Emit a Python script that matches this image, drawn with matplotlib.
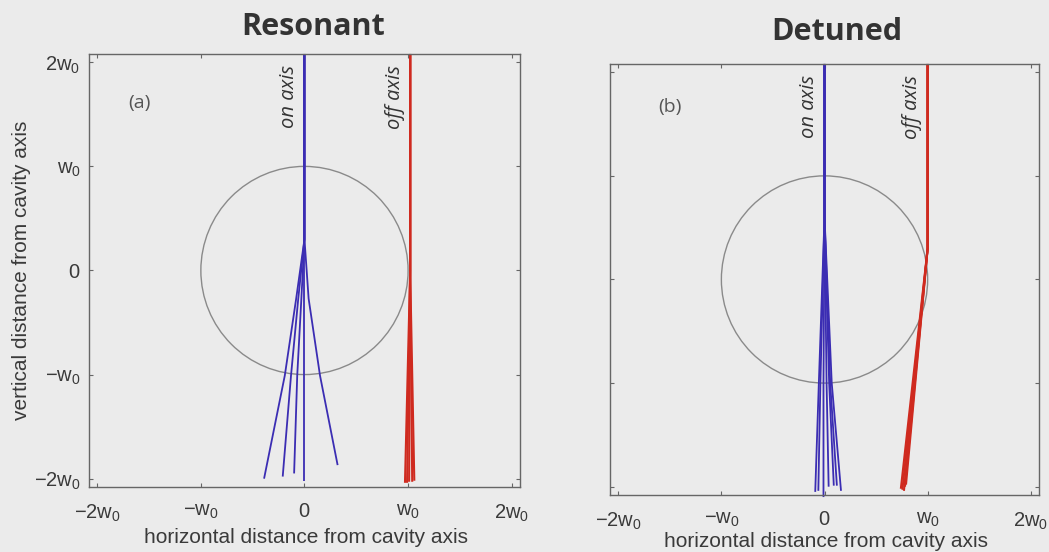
import numpy as np
import matplotlib
matplotlib.use('Agg')
import matplotlib.pyplot as plt
from matplotlib.patches import Circle

plt.rcParams['mathtext.fontset'] = 'custom'
plt.rcParams['mathtext.rm'] = 'Liberation Sans'
plt.rcParams['mathtext.it'] = 'Liberation Sans:italic'
plt.rcParams['font.family'] = ['Liberation Sans', 'DejaVu Sans']

# tick positions (units of w0) and labels
tick_vals = [-2, -1, 0, 1, 2]
tick_labels = [r'$\mathrm{-2w_0}$', r'$\mathrm{-w_0}$', r'$\mathrm{0}$',
               r'$\mathrm{w_0}$', r'$\mathrm{2w_0}$']
lim = 2.08

# (a) resonant: on-axis trajectories (x, y points)
res_on_x = [[0, 0, -0.08, -0.19, -0.39],
            [0, 0, -0.06, -0.13, -0.21],
            [0, 0, -0.03, -0.07, -0.10],
            [0, 0, 0.0, 0.0, 0.0],
            [0, 0, 0.04, 0.15, 0.32]]
res_on_y = [[2.08, 0.3, -0.27, -1.01, -2.00],
            [2.08, 0.3, -0.27, -1.01, -1.98],
            [2.08, 0.3, -0.27, -1.01, -1.95],
            [2.08, 0.3, -0.27, -1.01, -2.02],
            [2.08, 0.3, -0.27, -1.01, -1.87]]
# (a) resonant: off-axis trajectories
res_off_x = [[1.02, 1.02, 0.97], [1.02, 1.02, 0.99], [1.02, 1.02, 1.01],
             [1.02, 1.02, 1.04], [1.02, 1.02, 1.06]]
res_off_y = [[2.08, 0.0, -2.04], [2.08, 0.0, -2.04], [2.08, 0.0, -2.03],
             [2.08, 0.0, -2.03], [2.08, 0.0, -2.02]]

# (b) detuned: on-axis trajectories
det_on_x = [[0, 0, -0.055, -0.09], [0, 0, -0.04, -0.06], [0, 0, -0.01, -0.01],
            [0, 0, 0.02, 0.04], [0, 0, 0.045, 0.09], [0, 0, 0.055, 0.12],
            [0, 0, 0.07, 0.16]]
det_on_y = [[2.08, 0.6, -1.0, -2.05], [2.08, 0.6, -1.0, -2.04],
            [2.08, 0.6, -1.0, -2.10], [2.08, 0.6, -1.0, -2.00],
            [2.08, 0.6, -1.0, -1.99], [2.08, 0.6, -1.0, -1.99],
            [2.08, 0.6, -1.0, -2.04]]
# (b) detuned: off-axis trajectories
det_off_x = [[1.0, 1.0, 0.74], [1.0, 1.0, 0.755], [1.0, 1.0, 0.77],
             [1.0, 1.0, 0.78], [1.0, 1.0, 0.79]]
det_off_y = [[2.08, 0.3, -2.02], [2.08, 0.3, -2.03], [2.08, 0.3, -2.04],
             [2.08, 0.3, -2.00], [2.08, 0.3, -1.98]]

blue = '#3b2db3'
red = '#cf2a1f'
bg = '#ebebeb'
spine_col = '#666666'
text_col = '#3a3a3a'

fig = plt.figure(figsize=(10.49, 5.52), dpi=100, facecolor=bg)
ax_a = fig.add_axes([0.0848, 0.1178, 0.4109, 0.7844])
ax_b = fig.add_axes([0.5815, 0.1033, 0.4090, 0.7808])


def setup(ax, show_ylabels):
    ax.set_facecolor(bg)
    ax.set_xlim(-lim, lim)
    ax.set_ylim(-lim, lim)
    ax.set_xticks(tick_vals)
    ax.set_xticklabels(tick_labels)
    ax.set_yticks(tick_vals)
    if show_ylabels:
        ax.set_yticklabels(tick_labels)
    else:
        ax.set_yticklabels([])
    ax.tick_params(direction='in', length=3, width=0.8, color=spine_col,
                   top=True, right=True, labelsize=14.5, labelcolor=text_col)
    ax.tick_params(axis='x', pad=11)
    ax.tick_params(axis='y', pad=6)
    for s in ax.spines.values():
        s.set_color(spine_col)
        s.set_linewidth(1.0)
    ax.add_patch(Circle((0, 0), 1.0, fill=False, edgecolor='#8a8a8a', linewidth=1.0))


def draw(ax, xs, ys, color, lw):
    for x, y in zip(xs, ys):
        ax.plot(x, y, color=color, linewidth=lw, clip_on=False, solid_capstyle='butt')


setup(ax_a, True)
setup(ax_b, False)

draw(ax_a, res_on_x, res_on_y, blue, 1.3)
draw(ax_a, res_off_x, res_off_y, red, 1.5)
draw(ax_b, det_on_x, det_on_y, blue, 1.3)
draw(ax_b, det_off_x, det_off_y, red, 1.5)

ax_a.text(0.118, 0.887, '(a)', transform=ax_a.transAxes, fontsize=14,
          family='Open Sans', color='#555555', ha='center', va='center')
ax_b.text(0.14, 0.900, '(b)', transform=ax_b.transAxes, fontsize=14,
          family='Open Sans', color='#555555', ha='center', va='center')

for ax, xo in [(ax_a, 0.97), (ax_b, 0.95)]:
    ax.text(-0.05, 1.97, 'on axis', rotation=90, ha='right', va='top',
            fontsize=14.5, family='Open Sans', style='italic', color='#333333')
    ax.text(xo, 1.97, 'off axis', rotation=90, ha='right', va='top',
            fontsize=14.5, family='Open Sans', style='italic', color='#333333')

ax_a.set_xlabel('horizontal distance from cavity axis', fontsize=15, color=text_col)
ax_a.xaxis.set_label_coords(0.503, -0.095)
ax_b.set_xlabel('horizontal distance from cavity axis', fontsize=15, color=text_col)
ax_b.xaxis.set_label_coords(0.503, -0.086)
ax_a.set_ylabel('vertical distance from cavity axis', fontsize=15, color=text_col)
ax_a.yaxis.set_label_coords(-0.135, 0.5)

fig.text(313 / 1049, 1 - 27 / 552, 'Resonant', fontsize=22, fontweight='bold',
         family='Open Sans', color='#333333', ha='center', va='center')
fig.text(837 / 1049, 1 - 32 / 552, 'Detuned', fontsize=22, fontweight='bold',
         family='Open Sans', color='#333333', ha='center', va='center')

fig.savefig('out.png', dpi=100, facecolor=bg)
